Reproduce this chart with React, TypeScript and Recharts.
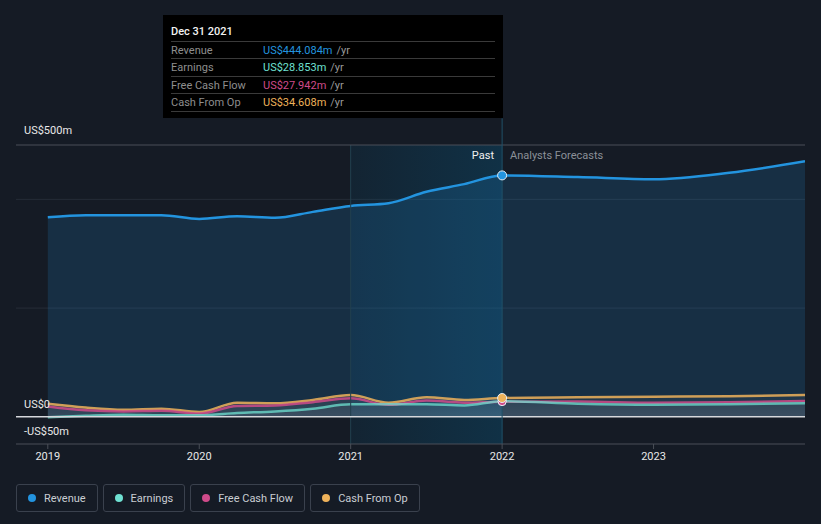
import React from "react";
import {
  ComposedChart,
  Area,
  XAxis,
  YAxis,
  CartesianGrid,
  ReferenceLine,
  ReferenceArea,
} from "recharts";

// time points (year fractions), past up to 2022, analyst forecasts after
const dates = [2019, 2019.25, 2019.5, 2019.75, 2020, 2020.25, 2020.5, 2020.75, 2021, 2021.25, 2021.5, 2021.75, 2022, 2022.5, 2023, 2023.5, 2024];
const revenue = [367, 371, 371, 371, 364, 369, 366, 377, 388, 393, 414, 428, 444.084, 441, 437, 449, 470];
const earnings = [-1, 2, 4, 3, 3, 7, 10, 15, 23, 23, 23, 21, 28.853, 24, 22, 23, 25];
const freeCashFlow = [19, 12, 10, 11, 6, 20, 21, 27, 34, 22, 30, 26, 27.942, 28, 26, 27, 29];
const cashFromOp = [24, 17, 13, 15, 9, 26, 25, 31, 40, 26, 36, 31, 34.608, 36, 37, 38, 40];

const xTicks = [2019, 2020, 2021, 2022, 2023];
const gridValues = [200, 400];
const tooltipDate = "Dec 31 2021";
const tooltipAt = 2022;

const series = [
  { key: "revenue", name: "Revenue", color: "#2394df" },
  { key: "earnings", name: "Earnings", color: "#6fe1d2" },
  { key: "fcf", name: "Free Cash Flow", color: "#cf4b8a" },
  { key: "cfo", name: "Cash From Op", color: "#eeb25a" },
];

const data = dates.map((x, i) => ({
  x,
  revenue: revenue[i],
  earnings: earnings[i],
  fcf: freeCashFlow[i],
  cfo: cashFromOp[i],
}));

const FONT = "Roboto, 'Noto Sans', sans-serif";
const BG = "#151b25";

const fmt = (v: number) => "US$" + v.toFixed(3) + "m";

function yLabel(text: string, dy: number) {
  return (props: any) => {
    const vb = props.viewBox || {};
    return (
      <text x={(vb.x ?? 16) + 8} y={(vb.y ?? 0) + dy} fill="#e8e8e8" fontSize={11} fontFamily={FONT} dominantBaseline="middle">
        {text}
      </text>
    );
  };
}

function dotAt(color: string, r: number) {
  return (p: any) => {
    if (!p.payload || p.payload.x !== tooltipAt) return <g key={p.index} />;
    return <circle key={p.index} cx={p.cx} cy={p.cy} r={r} fill={color} stroke="#e8eef5" strokeWidth={1} />;
  };
}

export default function App() {
  const idx = dates.indexOf(tooltipAt);
  const tipRows = [
    { name: "Revenue", v: revenue[idx], c: series[0].color },
    { name: "Earnings", v: earnings[idx], c: series[1].color },
    { name: "Free Cash Flow", v: freeCashFlow[idx], c: series[2].color },
    { name: "Cash From Op", v: cashFromOp[idx], c: series[3].color },
  ];

  return (
    <div style={{ position: "fixed", left: 0, top: 0, width: 821, height: 524, background: BG, fontFamily: FONT, overflow: "hidden" }}>
      <ComposedChart width={821} height={480} data={data} margin={{ top: 145, right: 16, left: 16, bottom: 0 }}>
        <defs>
          <linearGradient id="pastGrad" x1="0" y1="0" x2="1" y2="0">
            <stop offset="0%" stopColor="#05628f" stopOpacity={0.25} />
            <stop offset="100%" stopColor="#05628f" stopOpacity={0.62} />
          </linearGradient>
          <linearGradient id="smallGrad" x1="0" y1="0" x2="0" y2="1">
            <stop offset="0%" stopColor="#ffffff" stopOpacity={0.05} />
            <stop offset="100%" stopColor="#ffffff" stopOpacity={0.17} />
          </linearGradient>
        </defs>
        <CartesianGrid vertical={false} horizontalValues={gridValues} stroke="#262d37" />
        <XAxis
          dataKey="x"
          type="number"
          domain={[2018.79, 2024]}
          ticks={xTicks}
          allowDataOverflow
          height={36}
          tick={{ fill: "#e8e8e8", fontSize: 11, fontFamily: FONT }}
          axisLine={{ stroke: "#4a4f58" }}
          tickLine={{ stroke: "#4a4f58" }}
          tickSize={5}
          tickMargin={3}
        />
        <YAxis type="number" domain={[-50, 500]} allowDataOverflow hide />
        <ReferenceArea x1={2021} x2={2022} y1={-50} y2={500} fill="url(#pastGrad)" stroke="none" />
        <ReferenceLine x={2021} stroke="#23404f" />
        <ReferenceLine y={500} stroke="#4a4f58" label={yLabel("US$500m", -14)} />
        <ReferenceLine y={-50} stroke="none" label={yLabel("-US$50m", -12)} />

        <Area type="monotone" dataKey="revenue" stroke={series[0].color} strokeWidth={2.5} fill={series[0].color} fillOpacity={0.17} isAnimationActive={false} dot={false} activeDot={false} />
        <Area type="monotone" dataKey="cfo" stroke={series[3].color} strokeWidth={2.5} strokeOpacity={0.85} fill="url(#smallGrad)" isAnimationActive={false} dot={false} activeDot={false} />
        <Area type="monotone" dataKey="fcf" stroke={series[2].color} strokeWidth={2.5} strokeOpacity={0.85} fill="#ffffff" fillOpacity={0.03} isAnimationActive={false} dot={false} activeDot={false} />
        <Area type="monotone" dataKey="earnings" stroke={series[1].color} strokeWidth={2.5} strokeOpacity={0.75} fill="#ffffff" fillOpacity={0.03} isAnimationActive={false} dot={false} activeDot={false} />

        <ReferenceLine y={0} stroke="#d6d8dc" strokeWidth={1.5} label={yLabel("US$0", -12)} />
        <ReferenceLine
          segment={[{ x: tooltipAt, y: -50 }, { x: tooltipAt, y: 549 }]}
          ifOverflow="visible"
          stroke="#1f5068"
        />

        <Area type="monotone" dataKey="earnings" stroke="none" fill="none" isAnimationActive={false} dot={dotAt(series[1].color, 4)} activeDot={false} />
        <Area type="monotone" dataKey="fcf" stroke="none" fill="none" isAnimationActive={false} dot={dotAt(series[2].color, 4)} activeDot={false} />
        <Area type="monotone" dataKey="cfo" stroke="none" fill="none" isAnimationActive={false} dot={dotAt(series[3].color, 4.5)} activeDot={false} />
        <Area type="monotone" dataKey="revenue" stroke="none" fill="none" isAnimationActive={false} dot={dotAt(series[0].color, 4.5)} activeDot={false} />
      </ComposedChart>

      {/* past / forecast labels */}
      <div style={{ position: "absolute", right: 821 - 494, top: 149, color: "#f0f0f0", fontSize: 11 }}>Past</div>
      <div style={{ position: "absolute", left: 510, top: 149, color: "#8b9098", fontSize: 11 }}>Analysts Forecasts</div>

      {/* tooltip */}
      <div style={{ position: "absolute", left: 163, top: 15, width: 340, height: 103, background: "#000", fontSize: 11 }}>
        <div style={{ position: "absolute", left: 8, top: 10, color: "#f2f2f2", fontWeight: 500 }}>{tooltipDate}</div>
        {tipRows.map((r, i) => (
          <div key={r.name} style={{ position: "absolute", left: 8, right: 8, top: 25.5 + i * 17.5, height: 17.5, borderTop: "1px solid #3a3a3a", display: "flex", alignItems: "center" }}>
            <span style={{ width: 92, color: "#8e8e8e" }}>{r.name}</span>
            <span style={{ color: r.c }}>{fmt(r.v)}</span>
            <span style={{ color: "#9a9a9a", marginLeft: 4 }}>/yr</span>
          </div>
        ))}
        <div style={{ position: "absolute", left: 8, right: 8, top: 95.5, borderTop: "1px solid #3a3a3a" }} />
      </div>

      {/* legend */}
      <div style={{ position: "absolute", left: 16, top: 484, display: "flex", gap: 5 }}>
        {series.map((s) => (
          <div key={s.key} style={{ height: 26, border: "1px solid #3a414d", borderRadius: 3, display: "flex", alignItems: "center", padding: "0 11px 0 11px", color: "#c9cdd3", fontSize: 11 }}>
            <span style={{ width: 8, height: 8, borderRadius: 4, background: s.color, marginRight: 8, display: "inline-block" }} />
            {s.name}
          </div>
        ))}
      </div>
    </div>
  );
}
